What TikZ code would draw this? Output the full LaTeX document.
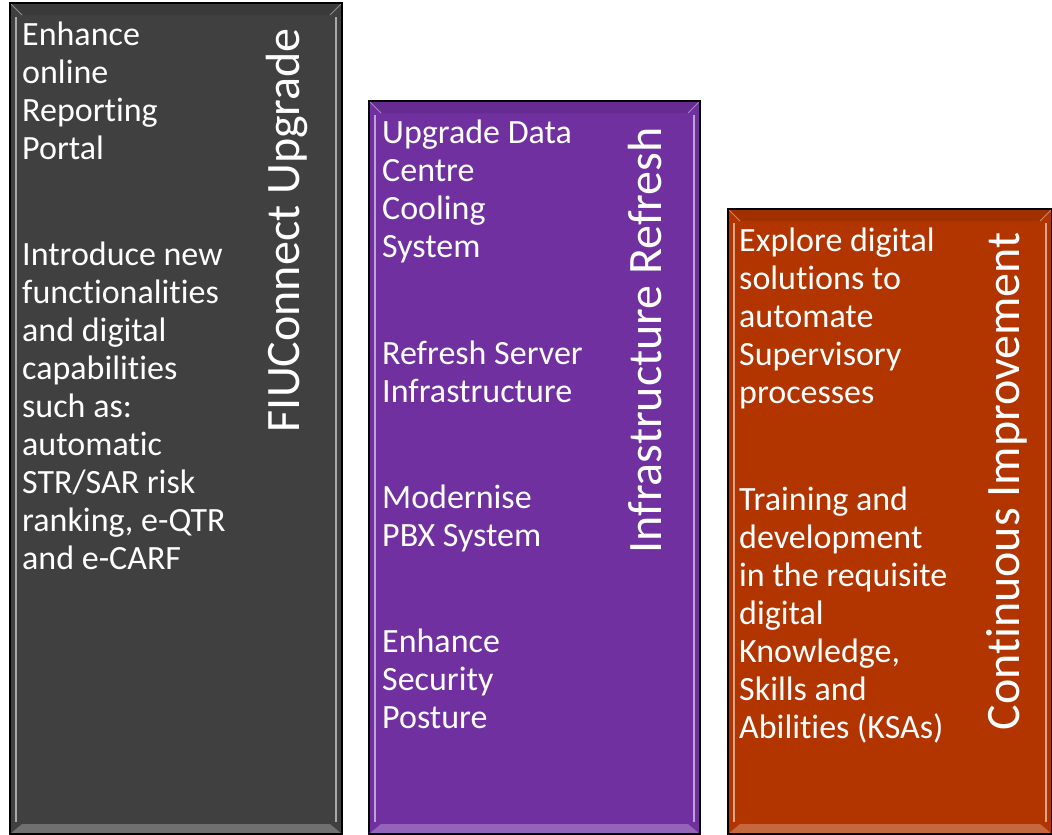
\documentclass[tikz,border=0pt]{standalone}
\usepackage{fontspec}
\setmainfont{Carlito}[Ligatures=NoCommon]
\usetikzlibrary{calc,positioning}
\definecolor{fiugray}{HTML}{404040}
\definecolor{infrapurple}{HTML}{7030A0}
\definecolor{improveorange}{HTML}{B23500}
\tikzset{
    itemtext/.style={text=white, anchor=base west, align=left, inner sep=0pt,
        font=\fontsize{34}{38}\selectfont},
    paneltitle/.style={text=white, rotate=90, anchor=base east, inner sep=0pt,
        font=\fontsize{48}{56}\selectfont},
}

\begin{document}
\begin{tikzpicture}[x=1pt, y=-1pt]
    \useasboundingbox (0,0) rectangle (1052,835);

    % bevelled panels
    \foreach \xa/\ya/\xb/\yb/\col in {10/3/342/834/fiugray, 369/101/700/834/infrapurple, 728/209/1052/834/improveorange}{
        \fill[\col] (\xa,\ya) rectangle (\xb,\yb);
        \fill[\col!90!black] (\xa,\ya) -- (\xb,\ya) -- (\xb-12,\ya+12) -- (\xa+12,\ya+12) -- cycle;
        \fill[\col!75!white] (\xa,\yb) -- (\xb,\yb) -- (\xb-12,\yb-10) -- (\xa+12,\yb-10) -- cycle;
        \draw[\col!45!white, line width=2.5pt] (\xa+6,\ya+14) -- (\xa+6,\yb-12);
        \draw[\col!45!white, line width=2.5pt] (\xb-6,\ya+14) -- (\xb-6,\yb-12);
        \draw[\col!60!white, line width=1pt] (\xa+1,\ya+1) -- (\xa+12,\ya+12);
        \draw[\col!60!white, line width=1pt] (\xb-1,\ya+1) -- (\xb-12,\ya+12);
        \draw[black, line width=1.2pt] (\xa,\ya) rectangle (\xb,\yb);
    }

    % FIUConnect Upgrade (nodes placed at the baseline of their last line)
    \node[paneltitle] (fiuTitle) at (299,28) {FIUConnect Upgrade};
    \node[itemtext] (fiuPortal) at (22,159) {Enhance\\online\\Reporting\\Portal};
    \node[itemtext] (fiuFunc) at (22,569) {Introduce new\\functionalities\\and digital\\capabilities\\such as:\\automatic\\STR/SAR risk\\ranking, e-QTR\\and e-CARF};

    % Infrastructure Refresh
    \node[paneltitle] (infraTitle) at (661,127) {Infrastructure Refresh};
    \node[itemtext] (infraCooling) at (382,257) {Upgrade Data\\Centre\\Cooling\\System};
    \node[itemtext] (infraServer) at (382,402) {Refresh Server\\Infrastructure};
    \node[itemtext] (infraPbx) at (382,546) {Modernise\\PBX System};
    \node[itemtext] (infraSecurity) at (382,728) {Enhance\\Security\\Posture};

    % Continuous Improvement
    \node[paneltitle] (ciTitle) at (1019,232) {Continuous Improvement};
    \node[itemtext] (ciExplore) at (739,403) {Explore digital\\solutions to\\automate\\Supervisory\\processes};
    \node[itemtext] (ciTraining) at (739,738) {Training and\\development\\in the requisite\\digital\\Knowledge,\\Skills and\\Abilities (KSAs)};
\end{tikzpicture}
\end{document}
